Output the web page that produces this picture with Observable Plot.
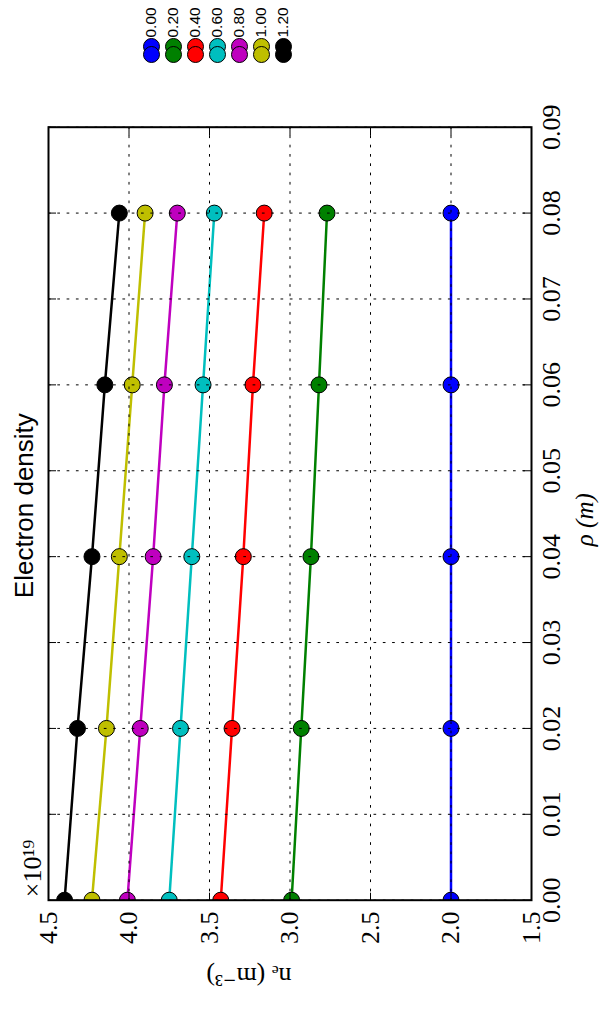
<!DOCTYPE html>
<html><head><meta charset="utf-8">
<script src="https://cdn.jsdelivr.net/npm/d3@7"></script>
<script src="https://cdn.jsdelivr.net/npm/@observablehq/plot@0.6"></script>
<style>
html,body{margin:0;padding:0;background:#fff;overflow:hidden;width:605px;height:1015px;}
#rot{position:absolute;left:0;top:0;width:1015px;height:605px;transform-origin:0 0;transform:translate(0,1015px) rotate(-90deg);background:#fff;}
#chart{position:absolute;left:0;top:0;}
#legend{position:absolute;left:950px;top:136.6px;}
svg{overflow:visible;}
</style></head><body>
<div id="rot"><div id="chart"></div><div id="legend"></div></div>
<script>
// ---- data (n_e in units of 1e19 m^-3) ----
const rho = [0.00, 0.02, 0.04, 0.06, 0.08];
const seriesLabels = ["0.00", "0.20", "0.40", "0.60", "0.80", "1.00", "1.20"];
const seriesColors = ["#0000ff", "#008000", "#ff0000", "#00bfbf", "#bf00bf", "#bfbf00", "#000000"];
const ne000 = [2.00, 2.00, 2.00, 2.00, 2.00];
const ne020 = [2.99, 2.93, 2.87, 2.82, 2.77];
const ne040 = [3.43, 3.36, 3.29, 3.23, 3.16];
const ne060 = [3.75, 3.68, 3.61, 3.54, 3.47];
const ne080 = [4.01, 3.93, 3.85, 3.78, 3.70];
const ne100 = [4.23, 4.14, 4.06, 3.98, 3.90];
const ne120 = [4.40, 4.32, 4.23, 4.15, 4.06];
const seriesValues = [ne000, ne020, ne040, ne060, ne080, ne100, ne120];
const xTicks = [0.00, 0.01, 0.02, 0.03, 0.04, 0.05, 0.06, 0.07, 0.08, 0.09];
const yTicks = [1.5, 2.0, 2.5, 3.0, 3.5, 4.0, 4.5];
const titleText = "Electron density";
const xLabelText = "ρ (m)";
const yLabelText = "nₑ (m⁻³)";
const offsetText = "×10¹⁹";

// ---- table ----
const rows = [];
seriesLabels.forEach((s, k) => seriesValues[k].forEach((v, i) => rows.push({series: s, rho: rho[i], ne: v})));
const legendRows = [];
seriesLabels.forEach(s => { legendRows.push({series: s, h: 1}); legendRows.push({series: s, h: 0}); });

// ---- layout ----
const W = 1015, H = 605, mL = 114.3, mR = 127.7, mT = 48, mB = 74;
const plotW = W - mL - mR, plotH = H - mT - mB;
const serif = "Liberation Serif, DejaVu Serif, serif";
const sans = "Liberation Sans, Arial, sans-serif";
const gridStyle = {stroke: "black", strokeOpacity: 1, strokeWidth: 1};
const colorScale = {domain: seriesLabels, range: seriesColors};

const chart = Plot.plot({
  width: W, height: H,
  marginLeft: mL, marginRight: mR, marginTop: mT, marginBottom: mB,
  style: {background: "white", color: "black", fontFamily: serif, fontSize: "26px", overflow: "visible"},
  x: {domain: [0, 0.09]},
  y: {domain: [1.5, 4.5]},
  color: colorScale,
  marks: [
    Plot.line(rows, {x: "rho", y: "ne", z: "series", stroke: "series", strokeWidth: 2.5, clip: "frame"}),
    Plot.dot(rows, {x: "rho", y: "ne", fill: "series", stroke: "black", strokeWidth: 1, r: 8, clip: "frame"}),
    Plot.gridX(xTicks, {...gridStyle, strokeDasharray: "2.7,6.6"}),
    Plot.gridY(yTicks, {...gridStyle, strokeDasharray: "2.7,6.6"}),
    Plot.gridX(xTicks, {...gridStyle, insetTop: plotH - 8}),
    Plot.gridX(xTicks, {...gridStyle, insetBottom: plotH - 8}),
    Plot.gridY(yTicks, {...gridStyle, insetRight: plotW - 8}),
    Plot.gridY(yTicks, {...gridStyle, insetLeft: plotW - 8}),
    Plot.frame({stroke: "black", strokeWidth: 2}),
    Plot.axisX(xTicks, {anchor: "bottom", tickSize: 0, tickPadding: 10.5, tickFormat: d3.format(".2f"), label: null, fontSize: 26, fontFamily: serif}),
    Plot.axisY(yTicks, {anchor: "left", tickSize: 0, tickPadding: 11.3, tickFormat: d3.format(".1f"), label: null, fontSize: 26, fontFamily: serif}),
    Plot.text([titleText], {text: d => d, frameAnchor: "top", dy: -16, dx: 8, lineAnchor: "bottom", fontFamily: sans, fontSize: 26}),
    Plot.text([xLabelText], {text: d => d, frameAnchor: "bottom", dy: 61.5, dx: -6, lineAnchor: "bottom", fontFamily: serif, fontStyle: "italic", fontSize: 25}),
    Plot.text([yLabelText], {text: d => d, frameAnchor: "left", dx: -68, dy: 1.5, rotate: -90, lineAnchor: "bottom", fontFamily: serif, fontSize: 26}),
    Plot.text([offsetText], {text: d => d, frameAnchor: "top-left", dx: 3, dy: -8, textAnchor: "start", lineAnchor: "bottom", fontFamily: serif, fontSize: 26})
  ]
});
document.getElementById("chart").appendChild(chart);

const legH = 159.6;
const legend = Plot.plot({
  width: 65, height: legH, margin: 0,
  style: {background: "transparent", color: "black", overflow: "visible", fontFamily: sans},
  x: {domain: [0, 1], range: [10, 18], axis: null},
  y: {type: "point", domain: seriesLabels, range: [0, legH], padding: 0.5, axis: null},
  color: colorScale,
  marks: [
    Plot.dot(legendRows, {x: "h", y: "series", fill: "series", stroke: "black", strokeWidth: 1, r: 8}),
    Plot.text(seriesLabels, {x: () => 1, y: d => d, text: d => d, dx: 9, textAnchor: "start", lineAnchor: "middle", fontFamily: sans, fontSize: 15.5, fill: "black"})
  ]
});
document.getElementById("legend").appendChild(legend);
</script>
</body></html>
